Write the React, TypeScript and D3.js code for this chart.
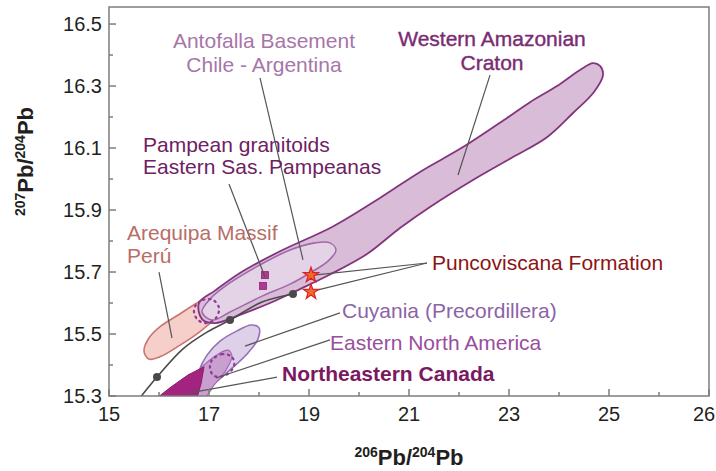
import React from 'react';
import * as d3 from 'd3';

type P = [number, number];

const W = 716;
const H = 471;

// Axis ticks
const xTicks = [15, 17, 19, 21, 23, 25, 27];
const xTickLabels = ['15', '17', '19', '21', '23', '25', '26'];
const xMinorTicks = [16, 18, 20, 22, 24, 26];
const yTicks = [15.3, 15.5, 15.7, 15.9, 16.1, 16.3, 16.5];
const yTickLabels = ['15.3', '15.5', '15.7', '15.9', '16.1', '16.3', '16.5'];
const yMinorTicks = [15.4, 15.6, 15.8, 16.0, 16.2, 16.4];

// Field outlines (206Pb/204Pb, 207Pb/204Pb)
const westernAmazonian: P[] = [
  [16.8, 15.6], [17.12, 15.64], [17.62, 15.697], [18.42, 15.767], [19.48, 15.847],
  [20.42, 15.939], [21.22, 16.023], [22.08, 16.103], [22.96, 16.197], [23.42, 16.248],
  [23.96, 16.3], [24.42, 16.352], [24.68, 16.374], [24.82, 16.365], [24.88, 16.335],
  [24.7, 16.281], [24.28, 16.213], [23.76, 16.135], [23.08, 16.071], [22.28, 15.997],
  [21.42, 15.91], [20.82, 15.842], [20.16, 15.758], [19.42, 15.692], [18.82, 15.645],
  [18.22, 15.6], [17.62, 15.562], [17.12, 15.535], [16.86, 15.548],
];
const antofalla: P[] = [
  [16.86, 15.571], [17.04, 15.616], [17.42, 15.665], [18.02, 15.723], [18.62, 15.771],
  [19.12, 15.794], [19.42, 15.794], [19.54, 15.771], [19.38, 15.735], [19.02, 15.697],
  [18.62, 15.661], [18.02, 15.619], [17.42, 15.571], [17.06, 15.545],
];
const arequipa: P[] = [
  [15.7, 15.445], [15.8, 15.487], [16.04, 15.526], [16.4, 15.563], [16.76, 15.6],
  [17.06, 15.622], [17.26, 15.619], [17.3, 15.594], [17.12, 15.55], [16.78, 15.503],
  [16.42, 15.464], [16.04, 15.428], [15.8, 15.419],
];
const cuyania: P[] = [
  [16.76, 15.332], [16.8, 15.381], [16.96, 15.432], [17.22, 15.477], [17.56, 15.51],
  [17.84, 15.529], [18.0, 15.52], [17.98, 15.484], [17.78, 15.439], [17.46, 15.39],
  [17.14, 15.345], [16.92, 15.316],
];
const easternNorthAmerica: P[] = [
  [16.5, 15.297], [16.66, 15.358], [16.92, 15.403], [17.18, 15.435], [17.38, 15.448],
  [17.46, 15.429], [17.34, 15.384], [17.1, 15.335], [16.92, 15.297],
];
const northeasternCanada: P[] = [
  [15.96, 15.294], [16.24, 15.329], [16.58, 15.368], [16.9, 15.394], [16.84, 15.339], [16.76, 15.294],
];
const dottedArequipa: P[] = [
  [16.74, 15.594], [16.88, 15.61], [17.08, 15.61], [17.2, 15.584], [17.14, 15.552],
  [16.96, 15.535], [16.78, 15.545], [16.7, 15.571],
];
const dottedCuyania: P[] = [
  [17.06, 15.416], [17.26, 15.435], [17.46, 15.426], [17.5, 15.397], [17.34, 15.368],
  [17.1, 15.365], [17.02, 15.39],
];
const growthCurve: P[] = [
  [15.52, 15.274], [15.96, 15.361], [16.48, 15.452], [16.96, 15.506], [17.42, 15.545],
  [18.06, 15.603], [18.68, 15.629],
];
const growthDots: P[] = [[15.96, 15.361], [17.42, 15.545], [18.68, 15.629]];
const pampeanSamples: P[] = [[18.12, 15.69], [18.08, 15.655]];
const puncoviscanaSamples: P[] = [[19.04, 15.69], [19.04, 15.636]];

// Annotations: label lines, anchor (data units), leader lines
const labels = [
  { lines: ['Antofalla Basement', 'Chile - Argentina'], at: [18.1, 16.423] as P, gap: 0.078, anchor: 'middle', color: '#a776a8', bold: false },
  { lines: ['Western Amazonian', 'Craton'], at: [22.66, 16.429] as P, gap: 0.076, anchor: 'middle', color: '#7a2c73', bold: false },
  { lines: ['Pampean granitoids', 'Eastern Sas. Pampeanas'], at: [15.68, 16.087] as P, gap: 0.071, anchor: 'start', color: '#6e2163', bold: false },
  { lines: ['Arequipa Massif', 'Perú'], at: [15.36, 15.803] as P, gap: 0.074, anchor: 'start', color: '#b96d67', bold: false },
  { lines: ['Puncoviscana Formation'], at: [21.46, 15.706] as P, gap: 0, anchor: 'start', color: '#8c1414', bold: false },
  { lines: ['Cuyania (Precordillera)'], at: [19.66, 15.552] as P, gap: 0, anchor: 'start', color: '#8d63a8', bold: false },
  { lines: ['Eastern North America'], at: [19.42, 15.448] as P, gap: 0, anchor: 'start', color: '#9a4d9d', bold: false },
  { lines: ['Northeastern Canada'], at: [18.46, 15.348] as P, gap: 0, anchor: 'start', color: '#7a1862', bold: true },
];
const leaders: [P, P][] = [
  [[18.02, 16.326], [18.88, 15.739]],
  [[22.62, 16.335], [21.98, 16.013]],
  [[17.4, 15.984], [18.12, 15.684]],
  [[16.0, 15.7], [16.26, 15.487]],
  [[21.36, 15.729], [19.1, 15.69]],
  [[21.36, 15.729], [19.1, 15.639]],
  [[19.62, 15.568], [17.72, 15.461]],
  [[19.42, 15.481], [17.14, 15.358]],
  [[18.36, 15.361], [16.62, 15.31]],
];

const FONT = '"Liberation Sans", Arial, Helvetica, sans-serif';

export default function App() {
  const x = d3.scaleLinear().domain([15, 27]).range([109, 709]);
  const y = d3.scaleLinear().domain([15.3, 16.555]).range([396, 7]);
  const closed = d3.line<P>().x(d => x(d[0])).y(d => y(d[1])).curve(d3.curveCatmullRomClosed.alpha(0.5));
  const poly = d3.line<P>().x(d => x(d[0])).y(d => y(d[1])).curve(d3.curveLinearClosed);
  const open = d3.line<P>().x(d => x(d[0])).y(d => y(d[1])).curve(d3.curveCatmullRom.alpha(0.5));
  const star = d3.symbol().type(d3.symbolStar).size(72)();
  const [x0, x1] = x.range();
  const [y0, y1] = [y(16.555), y(15.3)];

  return (
    <svg width={W} height={H} style={{ position: 'absolute', left: 0, top: 0, background: '#fff' }} fontFamily={FONT}>
      <defs>
        <clipPath id="plotClip">
          <rect x={x0} y={y0} width={x1 - x0} height={y1 - y0} />
        </clipPath>
      </defs>
      <rect x={0} y={0} width={W} height={H} fill="#fff" />
      <g clipPath="url(#plotClip)">
        <path d={closed(arequipa) || ''} fill="#f6cfca" stroke="#c8766d" strokeWidth={1.6} />
        <path d={closed(westernAmazonian) || ''} fill="#d9bdd8" stroke="#84347d" strokeWidth={1.8} />
        <path d={closed(antofalla) || ''} fill="#e4d2e6" stroke="#a06aa8" strokeWidth={1.6} />
        <path d={closed(dottedArequipa) || ''} fill="none" stroke="#8c3c96" strokeWidth={2.2} strokeDasharray="1.5 4.5" strokeLinecap="round" />
        <path d={open(growthCurve) || ''} fill="none" stroke="#4a4a4a" strokeWidth={1.6} />
        <path d={closed(cuyania) || ''} fill="#dfd0e9" stroke="#9671b8" strokeWidth={1.6} />
        <path d={closed(easternNorthAmerica) || ''} fill="#c99fd0" stroke="#a868b0" strokeWidth={1.2} />
        <path d={poly(northeasternCanada) || ''} fill="#a3247f" stroke="#8e1a6e" strokeWidth={1} />
        <path d={closed(dottedCuyania) || ''} fill="none" stroke="#8c3c96" strokeWidth={2.2} strokeDasharray="1.5 4.5" strokeLinecap="round" />
        {growthDots.map((d, i) => (
          <circle key={i} cx={x(d[0])} cy={y(d[1])} r={4} fill="#4a4a4a" />
        ))}
        {pampeanSamples.map((d, i) => (
          <rect key={i} x={x(d[0]) - 3.5} y={y(d[1]) - 3.5} width={7} height={7} fill="#b03a93" stroke="#8a2477" strokeWidth={0.8} />
        ))}
      </g>
      {leaders.map((l, i) => (
        <line key={i} x1={x(l[0][0])} y1={y(l[0][1])} x2={x(l[1][0])} y2={y(l[1][1])} stroke="#555" strokeWidth={1.2} />
      ))}
      {puncoviscanaSamples.map((d, i) => (
        <path key={i} d={star || ''} transform={`translate(${x(d[0])},${y(d[1])})`} fill="#f26a2a" stroke="#d8232a" strokeWidth={1.2} />
      ))}
      {labels.map((lb, i) => (
        <text key={i} x={x(lb.at[0])} y={y(lb.at[1])} fontSize={21} fill={lb.color} textAnchor={lb.anchor as any}
          fontWeight={lb.bold ? 'bold' : 'normal'} stroke={i === 1 ? lb.color : 'none'} strokeWidth={i === 1 ? 0.4 : 0}>
          {lb.lines.map((t, j) => (
            <tspan key={j} x={x(lb.at[0])} y={y(lb.at[1] - j * lb.gap)}>{t}</tspan>
          ))}
        </text>
      ))}
      {/* frame */}
      <rect x={x0} y={y0} width={x1 - x0} height={y1 - y0} fill="none" stroke="#7d7d7d" strokeWidth={1.5} />
      {/* x ticks */}
      {xTicks.map((t, i) => (
        <g key={'xt' + i}>
          <line x1={x(t)} x2={x(t)} y1={y1} y2={y1 - 7} stroke="#7d7d7d" strokeWidth={1.5} />
          <text x={Math.min(x(t), W - 12)} y={y1 + 25} fontSize={20} textAnchor="middle" fill="#231f20">{xTickLabels[i]}</text>
        </g>
      ))}
      {xMinorTicks.map((t, i) => (
        <line key={'xm' + i} x1={x(t)} x2={x(t)} y1={y1} y2={y1 - 4} stroke="#7d7d7d" strokeWidth={1.5} />
      ))}
      {yTicks.map((t, i) => (
        <g key={'yt' + i}>
          <line x1={x0} x2={x0 + 7} y1={y(t)} y2={y(t)} stroke="#7d7d7d" strokeWidth={1.5} />
          <text x={x0 - 7} y={y(t)} dy="0.36em" fontSize={20} textAnchor="end" fill="#231f20">{yTickLabels[i]}</text>
        </g>
      ))}
      {yMinorTicks.map((t, i) => (
        <line key={'ym' + i} x1={x0} x2={x0 + 4} y1={y(t)} y2={y(t)} stroke="#7d7d7d" strokeWidth={1.5} />
      ))}
      {/* axis titles */}
      <text x={(x0 + x1) / 2} y={465} textAnchor="middle" fontWeight="bold" fill="#231f20" fontSize={22}>
        <tspan fontSize={14} dy={-8}>206</tspan>
        <tspan dy={8}>Pb/</tspan>
        <tspan fontSize={14} dy={-8}>204</tspan>
        <tspan dy={8}>Pb</tspan>
      </text>
      <text transform={`translate(33,${(y0 + y1) / 2 - 40}) rotate(-90)`} textAnchor="middle" fontWeight="bold" fill="#231f20" fontSize={22}>
        <tspan fontSize={14} dy={-8}>207</tspan>
        <tspan dy={8}>Pb/</tspan>
        <tspan fontSize={14} dy={-8}>204</tspan>
        <tspan dy={8}>Pb</tspan>
      </text>
    </svg>
  );
}
